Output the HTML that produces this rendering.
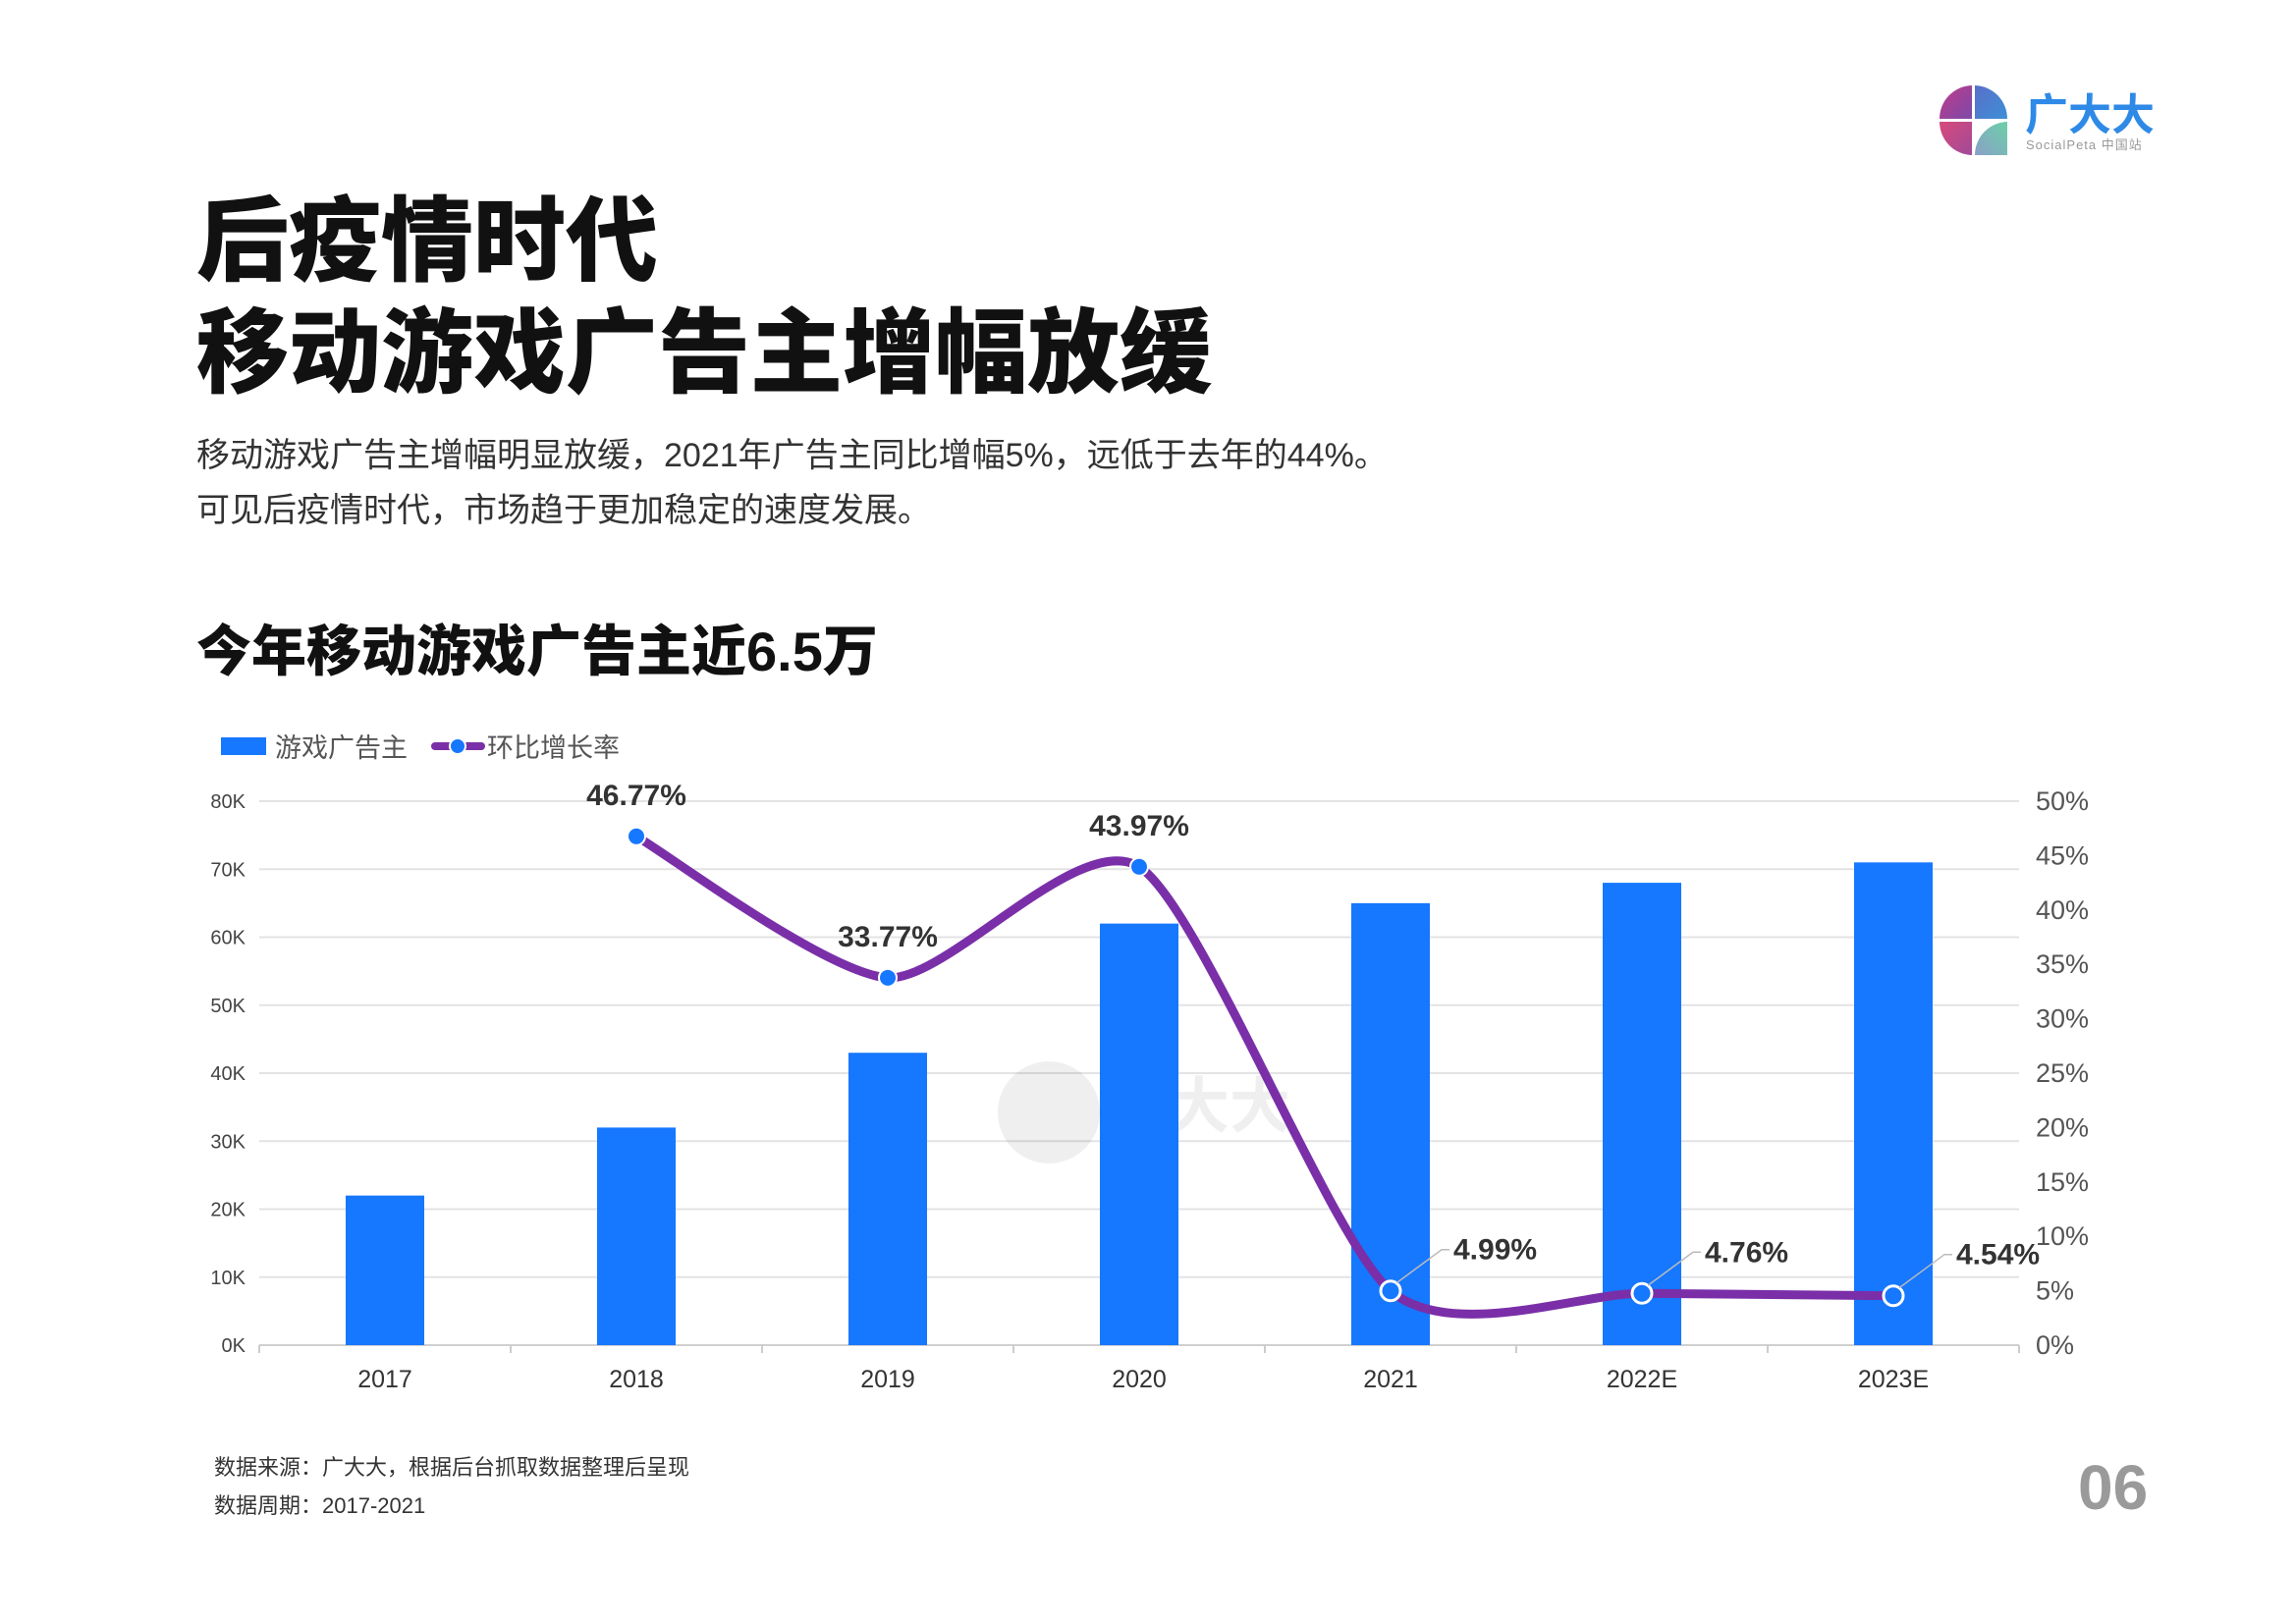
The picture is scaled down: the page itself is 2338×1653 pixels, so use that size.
<!DOCTYPE html>
<html><head><meta charset="utf-8"><style>
html,body{margin:0;padding:0;background:#fff;}
body{width:2338px;height:1653px;position:relative;overflow:hidden;font-family:"Liberation Sans","Noto Sans CJK SC",sans-serif;}
.t{position:absolute;white-space:nowrap;}
</style></head><body>
<div class="t" style="left:200px;top:196px;font-size:94px;font-weight:900;color:#111;line-height:100px;">后疫情时代</div>
<div class="t" style="left:200px;top:310px;font-size:94px;font-weight:900;color:#111;line-height:100px;">移动游戏广告主增幅放缓</div>
<div class="t" style="left:200px;top:444px;font-size:34px;color:#333;line-height:40px;">移动游戏广告主增幅明显放缓，2021年广告主同比增幅5%，远低于去年的44%。</div>
<div class="t" style="left:200px;top:500px;font-size:34px;color:#333;line-height:40px;">可见后疫情时代，市场趋于更加稳定的速度发展。</div>
<div class="t" style="left:200px;top:632px;font-size:56px;font-weight:900;color:#111;line-height:64px;">今年移动游戏广告主近6.5万</div>
<div class="t" style="left:218px;top:1477px;font-size:22px;color:#333;">数据来源：广大大，根据后台抓取数据整理后呈现</div>
<div class="t" style="left:218px;top:1516px;font-size:22px;color:#333;">数据周期：2017-2021</div>
<div class="t" style="left:2116px;top:1478px;font-size:64px;font-weight:bold;color:#9a9a9a;">06</div>

<svg style="position:absolute;left:1970px;top:82px" width="240" height="82">
 <defs>
  <linearGradient id="g1" x1="0" y1="0" x2="1" y2="1"><stop offset="0" stop-color="#c13a8a"/><stop offset="1" stop-color="#7b4aa8"/></linearGradient>
  <linearGradient id="g2" x1="0" y1="0" x2="1" y2="1"><stop offset="0" stop-color="#5a6fc9"/><stop offset="1" stop-color="#3d8fd6"/></linearGradient>
  <linearGradient id="g3" x1="0" y1="0" x2="1" y2="1"><stop offset="0" stop-color="#d84a7a"/><stop offset="1" stop-color="#a04a9a"/></linearGradient>
  <linearGradient id="g4" x1="0" y1="1" x2="1" y2="0"><stop offset="0" stop-color="#8aa0c8"/><stop offset="1" stop-color="#6cd0a8"/></linearGradient>
 </defs>
 <path d="M38 5 A34 34 0 0 0 5 39 L38 39 Z" fill="url(#g1)"/>
 <path d="M41 5 A34 34 0 0 1 74 39 L41 39 Z" fill="url(#g2)"/>
 <path d="M5 42 A34 34 0 0 0 38 76 L38 42 Z" fill="url(#g3)"/>
 <path d="M74 42 A34 34 0 0 0 41 76 L74 76 Z" fill="url(#g4)"/>
 <text x="92" y="50" font-size="44" font-weight="bold" fill="#2e8ae6" font-family="Liberation Sans, Noto Sans CJK SC, sans-serif">广大大</text>
 <text x="93" y="70" font-size="13" fill="#999" font-family="Liberation Sans, Noto Sans CJK SC, sans-serif" letter-spacing="1">SocialPeta 中国站</text>
</svg>

<svg id="chart" style="position:absolute;left:0;top:0" width="2338" height="1653"></svg>
<script>
const categories=["2017","2018","2019","2020","2021","2022E","2023E"];
const advertisers=[22000,32000,43000,62000,65000,68000,71000];
const growth=[null,46.77,33.77,43.97,4.99,4.76,4.54];
const growthLabels=["","46.77%","33.77%","43.97%","4.99%","4.76%","4.54%"];
const leftTicks=["0K","10K","20K","30K","40K","50K","60K","70K","80K"];
const rightTicks=["0%","5%","10%","15%","20%","25%","30%","35%","40%","45%","50%"];

const NS="http://www.w3.org/2000/svg";
const svg=document.getElementById('chart');
const X0=264,X1=2056,Y0=1370,Y1=816;
const band=(X1-X0)/categories.length;
const xc=i=>X0+band*(i+0.5);
const yL=v=>Y0-(v/80000)*(Y0-Y1);
const yR=v=>Y0-(v/50)*(Y0-Y1);
function el(t,a){const e=document.createElementNS(NS,t);for(const k in a)e.setAttribute(k,a[k]);svg.appendChild(e);return e;}
const F="Liberation Sans, Noto Sans CJK SC, sans-serif";

leftTicks.forEach((t,i)=>{
 const y=yL(i*10000);
 const g=el('line',{x1:X0,x2:X1,y1:y,y2:y,stroke:i==0?'#d0d0d0':'#e3e3e3','stroke-width':2});
 
 
 const tx=el('text',{x:X0-14,y:y+7,'text-anchor':'end','font-size':20,fill:'#444','font-family':F});
 tx.textContent=t;
 
 
});
rightTicks.forEach((t,i)=>{
 const y=yR(i*5);
 const tx=el('text',{x:X1+17,y:y+9,'font-size':27,fill:'#555','font-family':F});
 tx.textContent=t;
 
 
});
for(let i=0;i<=categories.length;i++){
 const x=X0+band*i;
 const l=el('line',{x1:x,x2:x,y1:Y0,y2:Y0+8,stroke:'#ccc','stroke-width':2});
 
 
}
const wm=el('g',{opacity:0.06});


const wc=el('circle',{cx:1068,cy:1133,r:52,fill:'#000'});wm.appendChild(wc);
const wt=el('text',{x:1128,y:1148,'font-size':62,'font-weight':'bold',fill:'#000','font-family':F});wt.textContent='广大大';wm.appendChild(wt);

categories.forEach((c,i)=>{
 const w=80,y=yL(advertisers[i]);
 const r=el('rect',{x:xc(i)-w/2,y:y,width:w,height:Y0-y,fill:'#1677ff'});
 
 
 const t=el('text',{x:xc(i),y:Y0+43,'text-anchor':'middle','font-size':25,fill:'#333','font-family':F});
 t.textContent=c;
 
 
});

const pts=[];growth.forEach((v,i)=>{if(v!==null)pts.push([xc(i),yR(v),i]);});
let d='M'+pts[0][0]+' '+pts[0][1];
for(let i=0;i<pts.length-1;i++){
 const p0=pts[Math.max(i-1,0)],p1=pts[i],p2=pts[i+1],p3=pts[Math.min(i+2,pts.length-1)];
 const k=0.12;
 let c1y=p1[1]+(p2[1]-p0[1])*k, c2y=p2[1]-(p3[1]-p1[1])*k;
 d+=` C${p1[0]+(p2[0]-p0[0])*k} ${c1y} ${p2[0]-(p3[0]-p1[0])*k} ${c2y} ${p2[0]} ${p2[1]}`;
}
const path=el('path',{d:d,fill:'none',stroke:'#7a2fa8','stroke-width':9,'stroke-linecap':'round'});



pts.forEach(p=>{
 const i=p[2];
 const low=growth[i]<10;
 const c=el('circle',{cx:p[0],cy:p[1],r:low?10:9,fill:'#1677ff',stroke:'#fff','stroke-width':low?3:2});
 
 
 let lx,ly,anchor;
 if(low){
  const l=el('polyline',{points:`${p[0]+6},${p[1]-8} ${p[0]+52},${p[1]-42} ${p[0]+60},${p[1]-42}`,fill:'none',stroke:'#bbb','stroke-width':1.5});
  
  
  lx=p[0]+64;ly=p[1]-32;anchor='start';
 }else{lx=p[0];ly=p[1]-32;anchor='middle';}
 const t=el('text',{x:lx,y:ly,'text-anchor':anchor,'font-size':30,'font-weight':'bold',fill:'#333','font-family':F});
 t.textContent=growthLabels[i];
 
 
});

const lr=el('rect',{x:225,y:751,width:46,height:18,fill:'#1677ff'});


const lt1=el('text',{x:280,y:771,'font-size':27,fill:'#555','font-family':F});lt1.textContent='游戏广告主';


const ll=el('line',{x1:443,x2:490,y1:760,y2:760,stroke:'#7a2fa8','stroke-width':8,'stroke-linecap':'round'});


const lc=el('circle',{cx:466,cy:760,r:8,fill:'#1677ff',stroke:'#fff','stroke-width':2});


const lt2=el('text',{x:496,y:771,'font-size':27,fill:'#555','font-family':F});lt2.textContent='环比增长率';


</script>
</body></html>
